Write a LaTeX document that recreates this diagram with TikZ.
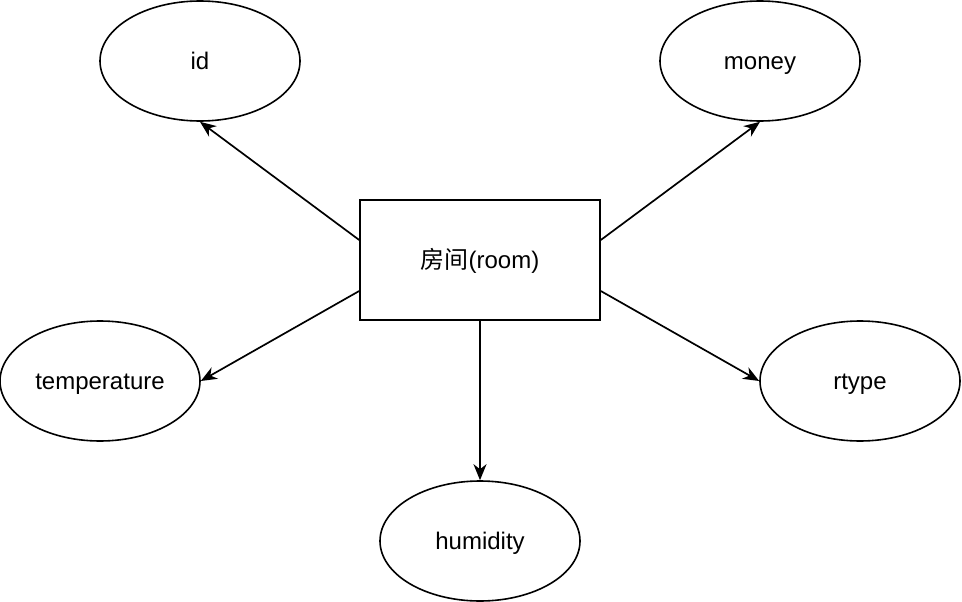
\documentclass[tikz,border=0pt]{standalone}
\usepackage{fontspec}
\setmainfont{Liberation Sans}
\newfontfamily\cjk{Noto Sans CJK SC}
\usetikzlibrary{shapes.geometric,arrows.meta}
\begin{document}
\begin{tikzpicture}[x=1pt,y=-1pt,
  lbl/.style={font=\fontsize{24}{28}\selectfont,text height=21.5pt,text depth=5pt},
  attr/.style={draw,line width=1.6pt,ellipse,minimum width=200pt,minimum height=120pt,inner sep=0pt,lbl},
  ent/.style={draw,line width=1.6pt,rectangle,minimum width=240pt,minimum height=120pt,inner sep=0pt,lbl},
  conn/.style={line width=1.7pt,-{Stealth[length=16pt,width=13pt,inset=5pt]}}]
\useasboundingbox (0,0) rectangle (962,602);
\node[ent] (room) at (480,260) {{\cjk 房间}(room)};
\node[attr] (id) at (200,61) {id};
\node[attr] (money) at (760,61) {money};
\node[attr] (temp) at (100,381) {temperature};
\node[attr] (rtype) at (860,381) {rtype};
\node[attr] (hum) at (480,541) {humidity};
\draw[conn] ([yshift=20pt]room.west) -- (id.south);
\draw[conn] ([yshift=20pt]room.east) -- (money.south);
\draw[conn] ([yshift=-31pt]room.west) -- (temp.east);
\draw[conn] ([yshift=-31pt]room.east) -- (rtype.west);
\draw[conn] (room.south) -- (hum.north);
\end{tikzpicture}
\end{document}
